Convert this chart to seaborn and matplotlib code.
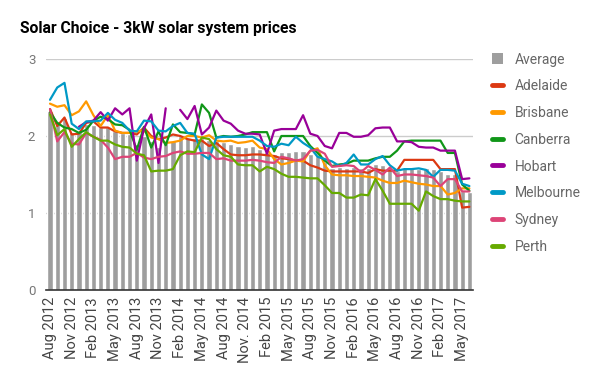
import numpy as np
import pandas as pd
import matplotlib
matplotlib.use("Agg")
import matplotlib.pyplot as plt
from matplotlib.patches import Patch
from matplotlib.lines import Line2D
import seaborn as sns

# ---------------- data ----------------
months = [d.strftime("%b %Y") for d in pd.date_range("2012-08-01", "2017-06-01", freq="MS")]
tick_labels = ["Aug 2012", "Nov 2012", "Feb 2013", "May 2013", "Aug 2013", "Nov 2013",
               "Feb 2014", "May 2014", "Aug 2014", "Nov. 2014", "Feb 2015", "May 2015",
               "Aug 2015", "Nov 2015", "Feb 2016", "May 2016", "Aug 2016", "Nov 2016",
               "Feb 2017", "May 2017"]

average = [2.33, 2.20, 2.24, 2.05, 2.06, 2.15, 2.14, 2.12, 2.12, 2.06, 2.04, 2.02, 1.89, 2.00, 1.93,
           1.86, 1.93, 1.93, 2.00, 1.98, 1.98, 1.97, 1.95, 1.94, 1.92, 1.89, 1.87, 1.86, 1.87, 1.83,
           1.79, 1.77, 1.79, 1.79, 1.80, 1.80, 1.77, 1.74, 1.66, 1.58, 1.60, 1.59, 1.60, 1.58, 1.59,
           1.64, 1.62, 1.59, 1.55, 1.59, 1.59, 1.57, 1.59, 1.57, 1.54, 1.51, 1.51, 1.28, 1.27]
adelaide = [2.35, 2.13, 2.24, 2.02, 2.03, 2.17, 2.19, 2.11, 2.11, 2.06, 2.04, 2.04, 2.02, 2.11, 2.00,
            1.96, 1.98, 2.02, 2.00, 1.96, 1.94, 1.94, 1.87, 1.91, 1.83, 1.76, 1.75, 1.75, 1.76, 1.76,
            1.75, 1.74, 1.71, 1.70, 1.68, 1.68, 1.62, 1.59, 1.55, 1.54, 1.54, 1.54, 1.54, 1.54, 1.52,
            1.57, 1.55, 1.55, 1.55, 1.69, 1.69, 1.69, 1.69, 1.69, 1.57, 1.57, 1.57, 1.07, 1.08]
brisbane = [2.42, 2.38, 2.40, 2.27, 2.32, 2.45, 2.27, 2.13, 2.27, 2.07, 2.04, 2.04, 2.06, 2.07, 1.98,
            1.96, 1.91, 1.92, 1.94, 2.00, 2.00, 1.98, 2.01, 1.94, 1.93, 1.94, 1.91, 1.92, 1.94, 1.85,
            1.83, 1.70, 1.63, 1.65, 1.68, 1.67, 1.81, 1.84, 1.62, 1.50, 1.49, 1.49, 1.48, 1.48, 1.47,
            1.46, 1.42, 1.39, 1.39, 1.42, 1.40, 1.38, 1.37, 1.35, 1.35, 1.24, 1.26, 1.32, 1.32]
canberra = [2.31, 2.17, 2.11, 2.09, 2.04, 2.08, 2.20, 2.25, 2.22, 2.15, 2.14, 2.08, 1.82, 2.12, 1.85,
            2.06, 1.88, 2.15, 2.05, 2.04, 2.02, 2.41, 2.30, 1.98, 2.00, 1.99, 2.00, 2.02, 2.05, 2.05,
            2.05, 1.80, 2.00, 2.00, 2.00, 2.00, 1.87, 1.78, 1.68, 1.61, 1.63, 1.64, 1.68, 1.68, 1.68,
            1.71, 1.73, 1.73, 1.81, 1.93, 1.94, 1.94, 1.94, 1.94, 1.94, 1.78, 1.78, 1.37, 1.29]
hobart = [np.nan, np.nan, np.nan, np.nan, 2.12, 2.18, 2.20, 2.31, 2.20, 2.36, 2.28, 2.36, 1.68, 2.10, 2.28,
          1.65, 2.36, np.nan, 2.34, 2.22, 2.39, 2.02, 2.11, 2.33, 2.20, 2.16, 2.07, 2.03, 2.03, 2.02,
          1.77, 2.07, 2.09, 2.09, 2.09, 2.27, 2.03, 2.00, 1.87, 1.84, 2.04, 2.04, 1.99, 1.99, 2.01,
          2.10, 2.11, 2.11, 1.93, 1.93, 1.92, 1.86, 1.85, 1.85, 1.81, 1.81, 1.81, 1.44, 1.45]
melbourne = [2.47, 2.63, 2.69, 2.16, 2.09, 2.19, 2.19, 2.20, 2.30, 2.21, 2.17, 2.07, 2.06, 2.20, 2.19,
             2.07, 2.06, 2.13, 2.17, 2.04, 2.03, 1.76, 1.70, 1.98, 1.99, 1.99, 1.99, 1.99, 1.99, 1.94,
             1.87, 1.86, 1.90, 1.88, 1.99, 1.91, 1.85, 1.73, 1.70, 1.67, 1.61, 1.65, 1.76, 1.63, 1.63,
             1.70, 1.74, 1.62, 1.55, 1.57, 1.57, 1.58, 1.56, 1.47, 1.56, 1.56, 1.55, 1.38, 1.35]
sydney = [2.35, 1.93, 2.05, 1.90, 1.89, 2.04, 1.99, 1.95, 1.85, 1.70, 1.73, 1.73, 1.78, 1.72, 1.70,
          1.73, 1.74, 1.78, 1.80, 1.77, 1.77, 1.78, 1.78, 1.70, 1.71, 1.68, 1.68, 1.68, 1.69, 1.68,
          1.66, 1.65, 1.73, 1.71, 1.68, 1.70, 1.81, 1.82, 1.77, 1.60, 1.61, 1.62, 1.61, 1.53, 1.61,
          1.56, 1.50, 1.59, 1.48, 1.50, 1.50, 1.49, 1.48, 1.46, 1.35, 1.44, 1.44, 1.28, 1.28]
perth = [2.28, 2.01, 2.09, 1.86, 1.96, 2.05, 1.99, 1.94, 1.94, 1.89, 1.86, 1.85, 1.77, 1.75, 1.54,
         1.55, 1.55, 1.57, 1.75, 1.80, 1.79, 1.98, 1.96, 1.83, 1.75, 1.73, 1.63, 1.62, 1.62, 1.54,
         1.60, 1.57, 1.51, 1.47, 1.47, 1.46, 1.45, 1.45, 1.36, 1.26, 1.26, 1.20, 1.20, 1.24, 1.23,
         1.44, 1.29, 1.12, 1.12, 1.12, 1.12, 1.03, 1.28, 1.22, 1.18, 1.18, 1.16, 1.15, 1.15]

cities = ["Adelaide", "Brisbane", "Canberra", "Hobart", "Melbourne", "Sydney", "Perth"]
city_values = [adelaide, brisbane, canberra, hobart, melbourne, sydney, perth]
colors = ["#dc3912", "#ff9900", "#109618", "#990099", "#0099c6", "#dd4477", "#66aa00"]
bar_color = "#9e9e9e"

# ---------------- plot ----------------
sns.set_style("white")
plt.rcParams["font.family"] = ["Roboto", "DejaVu Sans"]

fig = plt.figure(figsize=(6, 3.71), dpi=100)
ax = fig.add_axes([46.4 / 600, 1 - 290 / 371, (473 - 46.4) / 600, (290 - 59) / 371])

sns.barplot(x=months, y=average, color=bar_color, saturation=1, width=0.72, ax=ax, zorder=2)

for name, vals, col in zip(cities, city_values, colors):
    s = pd.Series(vals, dtype=float)
    grp = s.isna().cumsum()
    for _, seg in s[s.notna()].groupby(grp[s.notna()]):
        sns.lineplot(x=seg.index.to_numpy(), y=seg.to_numpy(), color=col, linewidth=1.6,
                     ax=ax, legend=False, zorder=3)

ax.set_xlim(-0.5, len(months) - 0.5)
ax.set_ylim(0, 3)
ax.set_yticks([0, 1, 2, 3])
ax.set_yticklabels(["0", "1", "2", "3"])
ax.set_xticks(list(range(0, len(months), 3)))
ax.set_xticklabels(tick_labels, rotation=90, fontsize=10.5, color="#444444")
ax.tick_params(axis="y", length=0, pad=8, labelsize=9.5, labelcolor="#777777")
ax.tick_params(axis="x", length=0, pad=5)
ax.grid(axis="y", color="#cccccc", linewidth=1, zorder=0)
ax.set_axisbelow(True)
for side in ["left", "right", "top"]:
    ax.spines[side].set_visible(False)
ax.spines["bottom"].set_color("#333333")
ax.spines["bottom"].set_linewidth(1.2)
ax.spines["bottom"].set_zorder(5)
ax.set_xlabel("")
ax.set_ylabel("")

fig.text(20 / 600, 1 - 28 / 371, "Solar Choice - 3kW solar system prices",
         fontsize=11.3, fontweight="bold", color="#000000", va="center", ha="left")

handles = [Patch(facecolor=bar_color, edgecolor="none")]
handles += [Line2D([0], [0], color=c, linewidth=3.5, solid_capstyle="round") for c in colors]
labels = ["Average"] + cities
fig.legend(handles, labels, loc="upper left", bbox_to_anchor=(486 / 600, 1 - 47 / 371),
           frameon=False, fontsize=10, labelcolor="#666666", handlelength=0.85,
           handleheight=0.85, handletextpad=0.8, labelspacing=0.92, borderaxespad=0)

fig.savefig("out.png", dpi=100)
